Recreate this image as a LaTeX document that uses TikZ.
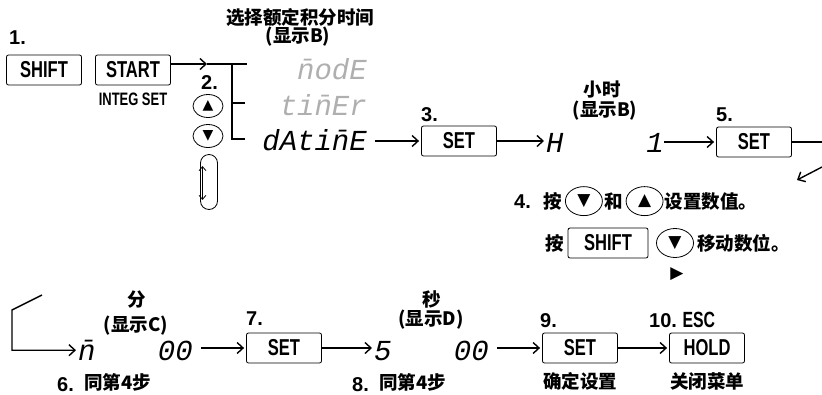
\documentclass[tikz,border=0pt]{standalone}
\usepackage{fontspec}
\setmainfont{Liberation Sans}
\newfontfamily\keyfont[FakeStretch=0.72]{Liberation Sans}
\newfontfamily\cjk{Noto Sans CJK SC}
\newfontfamily\segfont{Liberation Mono}
\newfontfamily\symfont{DejaVu Sans}
\usetikzlibrary{shapes.geometric, arrows.meta, positioning}
\definecolor{segoff}{RGB}{175,175,175}

\tikzset{
  keybox/.style={draw, rounded corners=2pt, line width=0.8pt, minimum width=75pt,
    minimum height=30pt, inner sep=0pt, font=\keyfont\bfseries\fontsize{23}{23}\selectfont},
  btn/.style={draw, ellipse, line width=0.8pt, minimum width=30pt, minimum height=23pt,
    inner sep=0pt, font=\symfont\fontsize{14}{14}\selectfont},
  bigbtn/.style={btn, minimum width=37pt, minimum height=29pt, font=\symfont\fontsize{17}{17}\selectfont},
  segtext/.style={inner sep=0pt, font=\segfont\itshape\fontsize{29}{29}\selectfont},
  numlbl/.style={inner sep=0pt, font=\bfseries\fontsize{20}{20}\selectfont},
  cjklbl/.style={inner sep=0pt, font=\cjk\bfseries\fontsize{18.5}{18.5}\selectfont},
  smallkey/.style={inner sep=0pt, font=\keyfont\bfseries\fontsize{18}{18}\selectfont},
  flow/.style={-{Straight Barb[length=6pt,width=11pt]}, line width=1.4pt, shorten >=2pt},
  plain/.style={line width=1.4pt}
}

\begin{document}
\begin{tikzpicture}[x=1pt, y=-1pt]
\useasboundingbox (0,0) rectangle (822,394);

% step 1
\node[numlbl, anchor=base west] (s1) at (9,44) {1.};
\node[keybox] (shift1) at (44,70) {SHIFT};
\node[keybox] (start) at (133,70) {START};
\node[smallkey, below=7pt of start] (integ) {INTEG SET};

% mode list
\node[cjklbl] (title) at (300,17) {选择额定积分时间};
\node[cjklbl] (dispb1) at (298,37) {(显示B)};
\node[segtext, text=segoff, anchor=base east] (mode) at (367,79) {n̄odE};
\node[segtext, text=segoff, anchor=base east] (timer) at (367,115) {tin̄Er};
\node[segtext, anchor=base east] (datime) at (367,150) {dAtin̄E};

\coordinate (bra) at (207,64);
\coordinate (brtop) at (232,64);
\coordinate (brmid) at (232,103);
\coordinate (brbot) at (232,139);
\draw[flow, shorten >=0pt] ([yshift=6pt]start.east) -- (bra);
\draw[plain] (bra) -- (247,64);
\draw[plain] (brtop) -- (brbot) -- (245,139);
\draw[plain] (brmid) -- (245,103);

% step 2
\node[numlbl, anchor=base west] (s2) at (201,89) {2.};
\node[btn] (up2) at (208,106) {▲};
\node[btn] (down2) at (208,136) {▼};
\node[draw, line width=0.8pt, rounded corners=8.5pt, minimum width=17pt,
  minimum height=55pt, inner sep=0pt] (cyc) at (209,182) {};
\draw[{Straight Barb[length=4pt,width=7pt]}-{Straight Barb[length=4pt,width=7pt]}, line width=0.8pt]
  ([xshift=-6.5pt,yshift=-12pt]cyc.north) -- ([xshift=-6.5pt,yshift=10pt]cyc.south);

% step 3
\node[keybox] (set3) at (459,141) {SET};
\node[numlbl, anchor=base west] (s3) at (421,121) {3.};
\draw[flow] ([xshift=8pt]datime.east |- set3.west) -- (set3.west);

% hour
\node[cjklbl] (hourlbl) at (602,90) {小时};
\node[cjklbl] (dispb2) at (605,111) {(显示B)};
\node[segtext, anchor=base west] (hourh) at (546,152) {H};
\node[segtext, anchor=base east] (hour1) at (664,152) {1};
\draw[flow] (set3.east) -- (set3.east -| hourh.west);

% step 5
\node[keybox] (set5) at (754,142) {SET};
\node[numlbl, anchor=base west] (s5) at (716,121) {5.};
\draw[flow] (hour1.east |- set5.west) -- (set5.west);
\coordinate (rt) at (822,142);
\draw[plain] (set5.east) -- (rt);
\coordinate (wrapa) at (822,167);
\coordinate (wrapb) at (797,180);
\draw[flow, shorten >=0pt] (wrapa) -- (wrapb);

% step 4
\node[numlbl, anchor=base west] (s4) at (514,208) {4.};
\node[cjklbl, right=12pt of s4.east] (press1) {按};
\node[bigbtn, right=3pt of press1] (down4) {▼};
\node[cjklbl, right=2pt of down4] (and4) {和};
\node[bigbtn, right=2pt of and4] (up4) {▲};
\node[cjklbl, right=1pt of up4] (setval) {设置数值。};
\node[keybox, minimum width=80pt] (shift2) at (608,243) {SHIFT};
\node[cjklbl, left=3pt of shift2] (press2) {按};
\node[bigbtn] (down5) at (675,243) {▼};
\node[cjklbl, right=3pt of down5] (movedig) {移动数位。};
\node[inner sep=0pt, font=\symfont\fontsize{17}{17}\selectfont] (tri) at (677,274) {▶};

% minutes
\coordinate (wrapc) at (42,295);
\coordinate (wrapd) at (12,310);
\node[segtext, anchor=base west] (minm) at (78,360) {n̄};
\node[segtext, anchor=base east] (min00) at (193,360) {00};
\draw[flow] (wrapc) -- (wrapd) |- (minm.west);
\node[cjklbl] (minlbl) at (137,300) {分};
\node[cjklbl] (dispc) at (136,326) {(显示C)};
\node[numlbl, anchor=base west] (s6) at (57,391) {6.};
\node[cjklbl, anchor=base west] (same6) at (84,389) {同第4步};

% step 7
\node[keybox] (set7) at (284,348) {SET};
\node[numlbl, anchor=base west] (s7) at (246,325) {7.};
\draw[flow] (min00.east |- set7.west) ++(8,0) -- (set7.west);

% seconds
\node[segtext, anchor=base west] (sec5) at (374,360) {5};
\node[segtext, anchor=base east] (sec00) at (489,360) {00};
\draw[flow] (set7.east) -- (set7.east -| sec5.west);
\node[cjklbl] (seclbl) at (432,299) {秒};
\node[cjklbl] (dispd) at (431,320) {(显示D)};
\node[numlbl, anchor=base west] (s8) at (352,391) {8.};
\node[cjklbl, anchor=base west] (same8) at (379,389) {同第4步};

% step 9
\node[keybox] (set9) at (580,348) {SET};
\node[numlbl, anchor=base west] (s9) at (540,327) {9.};
\draw[flow] (sec00.east |- set9.west) ++(8,0) -- (set9.west);
\node[cjklbl] (confirm) at (580,381) {确定设置};

% step 10
\node[keybox] (hold) at (707,348) {HOLD};
\node[numlbl, anchor=base west] (s10) at (649,327) {10.\ \keyfont\fontsize{22}{22}\selectfont ESC};
\draw[flow] (set9.east) -- (hold.west);
\node[cjklbl] (closemenu) at (707,381) {关闭菜单};
\end{tikzpicture}
\end{document}
